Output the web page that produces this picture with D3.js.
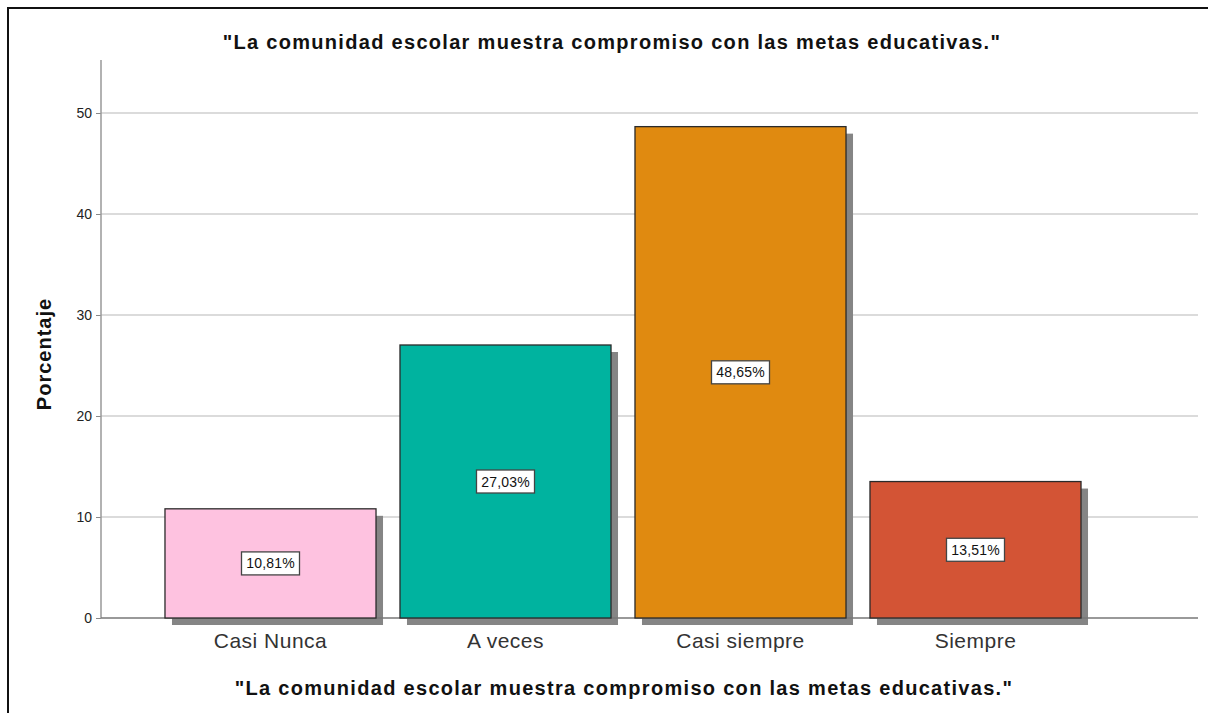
<!DOCTYPE html>
<html>
<head>
<meta charset="utf-8">
<script src="https://cdn.jsdelivr.net/npm/d3@7"></script>
<style>
  body { margin: 0; background: #fff; }
  svg { display: block; font-family: Arial, "Liberation Sans", sans-serif; }
</style>
</head>
<body>
<svg id="chart" width="1208" height="713"></svg>
<script>
// data
const categories = ["Casi Nunca", "A veces", "Casi siempre", "Siempre"];
const percentages = [10.81, 27.03, 48.65, 13.51];
const barColors = ["#fec2e0", "#00b39f", "#e08a10", "#d35435"];
const yTicks = [0, 10, 20, 30, 40, 50];
const chartTitle = "\"La comunidad escolar muestra compromiso con las metas educativas.\"";
const yTitle = "Porcentaje";

const svg = d3.select("#chart");

// outer frame (right/bottom edges run off the picture)
svg.append("rect")
  .attr("x", 8).attr("y", 8)
  .attr("width", 1220).attr("height", 720)
  .attr("fill", "none")
  .attr("stroke", "#111")
  .attr("stroke-width", 2);

const plot = {left: 101, right: 1198, top: 60, bottom: 618};

const x = d3.scaleBand()
  .domain(categories)
  .range([153, 1093])
  .paddingInner(0.102)
  .paddingOuter(0.051);

const y = d3.scaleLinear()
  .domain([0, 50])
  .range([plot.bottom, 113]);

// gridlines
svg.append("g")
  .selectAll("line")
  .data(yTicks.filter(d => d > 0))
  .join("line")
  .attr("x1", plot.left).attr("x2", plot.right)
  .attr("y1", d => y(d)).attr("y2", d => y(d))
  .attr("stroke", "#cfcfcf")
  .attr("stroke-width", 1.5);

// y axis
const yAxis = svg.append("g")
  .attr("transform", `translate(${plot.left},0)`)
  .call(d3.axisLeft(y).tickValues(yTicks).tickSize(5).tickPadding(4).tickFormat(d3.format("d")));
yAxis.select(".domain").remove();
yAxis.selectAll(".tick line").attr("stroke", "#888");
yAxis.selectAll(".tick text")
  .attr("font-size", 14)
  .attr("fill", "#222")
  .attr("font-family", "Arial, 'Liberation Sans', sans-serif");
svg.append("line")
  .attr("x1", plot.left).attr("x2", plot.left)
  .attr("y1", plot.top).attr("y2", plot.bottom)
  .attr("stroke", "#999").attr("stroke-width", 1.5);

// shadows
const bars = categories.map((c, i) => ({cat: c, value: percentages[i], color: barColors[i]}));
svg.append("g")
  .selectAll("rect")
  .data(bars)
  .join("rect")
  .attr("x", d => x(d.cat) + 7)
  .attr("y", d => y(d.value) + 7)
  .attr("width", x.bandwidth())
  .attr("height", d => plot.bottom - y(d.value))
  .attr("fill", "#858585");

// baseline
svg.append("line")
  .attr("x1", plot.left).attr("x2", plot.right)
  .attr("y1", plot.bottom).attr("y2", plot.bottom)
  .attr("stroke", "#777").attr("stroke-width", 1.5);

// bars
svg.append("g")
  .selectAll("rect")
  .data(bars)
  .join("rect")
  .attr("x", d => x(d.cat))
  .attr("y", d => y(d.value))
  .attr("width", x.bandwidth())
  .attr("height", d => plot.bottom - y(d.value))
  .attr("fill", d => d.color)
  .attr("stroke", "#2a2a2a")
  .attr("stroke-width", 1.3);

// value labels
const fmt = v => v.toFixed(2).replace(".", ",") + "%";
const labels = svg.append("g")
  .selectAll("g")
  .data(bars)
  .join("g")
  .attr("transform", d => `translate(${x(d.cat) + x.bandwidth() / 2},${(y(d.value) + plot.bottom) / 2})`);
labels.append("rect")
  .attr("x", -29).attr("y", -11.5)
  .attr("width", 58).attr("height", 23)
  .attr("fill", "#fff")
  .attr("stroke", "#444")
  .attr("stroke-width", 1.3);
labels.append("text")
  .attr("text-anchor", "middle")
  .attr("dy", "0.36em")
  .attr("font-size", 14)
  .attr("letter-spacing", 0.2)
  .attr("fill", "#111")
  .text(d => fmt(d.value));

// x axis category labels
const xAxis = svg.append("g")
  .attr("transform", `translate(0,${plot.bottom})`)
  .call(d3.axisBottom(x).tickSize(0).tickPadding(15));
xAxis.select(".domain").remove();
xAxis.selectAll(".tick text")
  .attr("font-size", 21)
  .attr("letter-spacing", 0.5)
  .attr("fill", "#333")
  .attr("font-family", "Arial, 'Liberation Sans', sans-serif");

// titles
svg.append("text")
  .attr("x", 612).attr("y", 49)
  .attr("text-anchor", "middle")
  .attr("font-size", 20).attr("font-weight", "bold")
  .attr("letter-spacing", 1.3)
  .attr("fill", "#111")
  .text(chartTitle);

svg.append("text")
  .attr("x", 624).attr("y", 695)
  .attr("text-anchor", "middle")
  .attr("font-size", 20).attr("font-weight", "bold")
  .attr("letter-spacing", 1.3)
  .attr("fill", "#111")
  .text(chartTitle);

svg.append("text")
  .attr("transform", "translate(51,354) rotate(-90)")
  .attr("text-anchor", "middle")
  .attr("font-size", 20).attr("font-weight", "bold")
  .attr("letter-spacing", 1)
  .attr("fill", "#111")
  .text(yTitle);
</script>
</body>
</html>
